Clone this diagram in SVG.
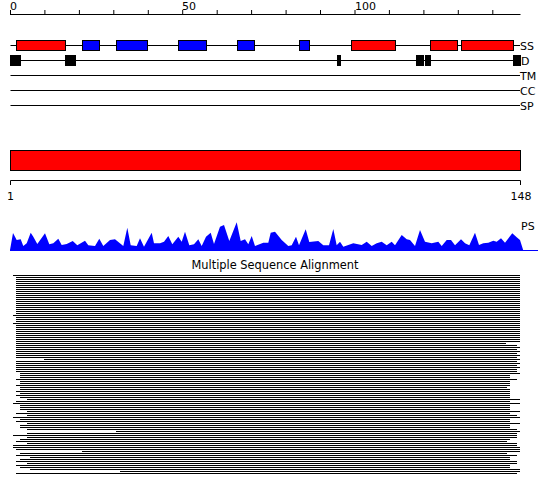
<svg xmlns="http://www.w3.org/2000/svg" width="550" height="495" viewBox="0 0 550 495">
<style>
text{font-family:"DejaVu Sans","Liberation Sans",sans-serif;font-size:11px;fill:#000}
.ln{stroke:#000;stroke-width:1;fill:none}
.red{fill:#ff0000;stroke:#000;stroke-width:1}
.blue{fill:#0000ff;stroke:#000;stroke-width:1}
.blk{fill:#000}
</style>
<rect width="550" height="495" fill="#fff"/>
<g id="ruler">
<path class="ln" d="M10.5 14.5H520.5M10.5 10V15M44.9 10V15M79.4 10V15M113.8 10V15M148.3 10V15M182.7 10V15M217.2 10V15M251.6 10V15M286.1 10V15M320.5 10V15M355 10V15M389.4 10V15M423.9 10V15M458.3 10V15M492.8 10V15"/>
<text x="10" y="9.5">0</text>
<text x="182" y="9.5">50</text>
<text x="355" y="9.5">100</text>
</g>
<g id="track-SS">
<path class="ln" d="M10.5 45.5H520"/>
<rect class="red" x="16.5" y="40.5" width="49" height="10"/>
<rect class="blue" x="82.5" y="40.5" width="17" height="10"/>
<rect class="blue" x="116.5" y="40.5" width="31" height="10"/>
<rect class="blue" x="178.5" y="40.5" width="28" height="10"/>
<rect class="blue" x="237.5" y="40.5" width="17" height="10"/>
<rect class="blue" x="299.5" y="40.5" width="10" height="10"/>
<rect class="red" x="351.5" y="40.5" width="44" height="10"/>
<rect class="red" x="430.5" y="40.5" width="27" height="10"/>
<rect class="red" x="461.5" y="40.5" width="52" height="10"/>
<text x="520" y="50">SS</text>
</g>
<g id="track-D">
<path class="ln" d="M10.5 60.5H520"/>
<rect class="blk" x="10" y="55" width="11" height="11"/>
<rect class="blk" x="65" y="55" width="11" height="11"/>
<rect class="blk" x="337" y="55" width="4" height="11"/>
<rect class="blk" x="416" y="55" width="8" height="11"/>
<rect class="blk" x="425" y="55" width="6" height="11"/>
<rect class="blk" x="513" y="55" width="8" height="11"/>
<text x="521" y="65">D</text>
</g>
<g id="track-TM">
<path class="ln" d="M10.5 75.5H520"/>
<text x="520" y="80">TM</text>
</g>
<g id="track-CC">
<path class="ln" d="M10.5 90.5H520"/>
<text x="520" y="95">CC</text>
</g>
<g id="track-SP">
<path class="ln" d="M10.5 105.5H520"/>
<text x="520" y="110">SP</text>
</g>
<g id="domain">
<rect class="red" x="10.5" y="150.5" width="510" height="20"/>
<path class="ln" d="M10.5 185V180.5H520.5V185"/>
<text x="10.5" y="200" text-anchor="middle">1</text>
<text x="521" y="200" text-anchor="middle">148</text>
</g>
<g id="PS">
<polygon fill="#0000ff" points="10,250 13,233 16.7,240 20.7,239.3 23.3,246 26.7,243.3 30.7,232.7 33.3,236.7 37.3,244 45,233.3 49.3,244.3 53.3,243.3 58.3,238.7 61.7,245 66.7,244 72.7,241 77.3,245.3 85,240.7 88.3,245.3 95,246 99.3,238.7 103.3,246 110,240 115,239.3 123.3,246 127.3,227.7 130.7,245.3 136.7,246 140,238.3 144,246.7 151.7,232.7 154,243.3 160,243.3 164,241.7 168.3,236 172.3,244.3 178.3,236.7 181.7,241.7 185,231.7 189.3,245.3 194,244.3 198.3,239.3 201.7,246 206,236.7 210.7,232.7 214,244 220,226.7 224,225 229.3,241 236.7,222.3 240.7,241 245,239.3 248.3,244.3 251.7,236 255,246 263.3,242.7 268.3,242.7 270.7,232.7 275,231.7 281.7,240 288.3,246 291.7,245.3 296,236.7 299,245.3 305.7,229.3 309.3,242 318.3,241 323.3,245.3 329,245.3 333.3,229 336.7,245.3 340,241.7 343.3,246.7 353.3,243.3 361.7,245 366.7,241.7 371.7,246 376.7,243.3 381.7,241.7 386.7,245.3 391.7,241.7 395,245.3 401.7,235 406.7,239.3 410,240 415,246 420,230 425,241.7 431.7,243.3 438.3,241.7 441.7,246 446.7,240 451,240 455,245.3 461,239.3 465,243.3 469.3,245.3 475,232.7 479,245 483.3,243.3 488.3,242.7 493.3,240.7 496.7,241.7 501,238.3 505,242.7 512.3,233.3 516.7,237.3 520,240 523.3,250.5 10,250.5"/>
<path d="M10 250.5H538" stroke="#0000ff" stroke-width="1"/>
<text x="521" y="230">PS</text>
</g>
<g id="MSA">
<text x="275" y="269" text-anchor="middle" style="font-size:11.4px">Multiple Sequence Alignment</text>
<path class="ln" d="M13 275.5H520M16 277.5H520M16 279.5H520M16 281.5H520M16 283.5H520M16 285.5H520M16 287.5H520M16 289.5H520M16 291.5H520M16 293.5H520M16 295.5H520M16 297.5H520M16 299.5H520M16 301.5H520M16 303.5H520M16 305.5H520M16 307.5H520M16 309.5H520M16 311.5H520M16 313.5H520M13 315.5H520M16 317.5H520M16 319.5H520M16 321.5H520M13 323.5H520M16 325.5H520M16 327.5H520M16 329.5H520M16 331.5H520M16 333.5H520M16 335.5H520M16 337.5H520M16 339.5H520M16 341.5H520M16 343.5H506M16 345.5H517M16 347.5H520M16 349.5H517M16 351.5H520M16 353.5H517M16 355.5H520M16 357.5H517M44 359.5H520M16 361.5H517M16 363.5H520M16 365.5H517M16 367.5H520M16 369.5H517M16 371.5H517M20 373.5H520M20 375.5H510M20 377.5H510M16 379.5H517M20 381.5H510M20 383.5H510M16 385.5H510M20 387.5H507M20 389.5H510M16 391.5H510M20 393.5H510M16 395.5H510M20 397.5H510M27 399.5H520M16 401.5H510M13 403.5H520M20 405.5H510M20 407.5H510M20 409.5H510M27 411.5H520M16 413.5H510M27 415.5H517M13 417.5H520M20 419.5H510M16 421.5H510M27 423.5H520M20 425.5H510M20 427.5H510M27 429.5H517M116 431.5H520M27 433.5H517M13 435.5H517M27 437.5H517M20 439.5H510M16 441.5H507M27 443.5H517M13 445.5H517M13 447.5H520M16 449.5H520M82 451.5H520M20 453.5H507M16 455.5H517M30 457.5H510M20 459.5H510M16 461.5H517M27 463.5H517M16 465.5H510M20 467.5H510M30 469.5H520M120 471.5H520M16 473.5H517"/>
</g>
</svg>
